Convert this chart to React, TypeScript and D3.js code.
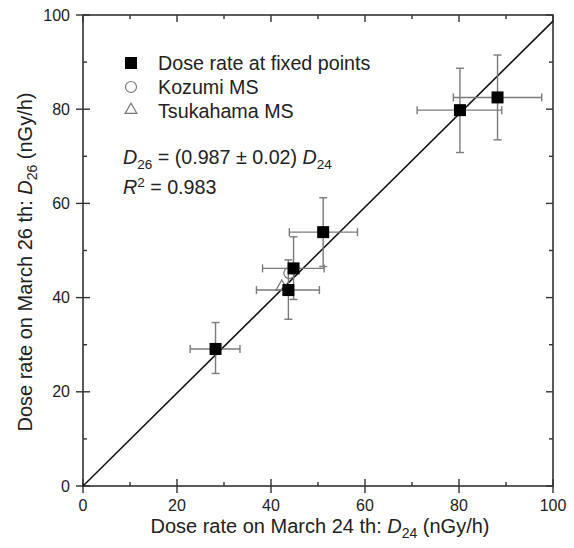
import React, { useRef, useEffect } from "react";
import * as d3 from "d3";

// fixed point measurements (D24, D26) with error ranges
const fixedX = [28.2, 43.7, 44.8, 51.1, 80.2, 88.2];
const fixedY = [29.1, 41.6, 46.2, 53.9, 79.8, 82.5];
const fixedXLo = [22.8, 36.9, 38.2, 43.9, 71.1, 78.8];
const fixedXHi = [33.4, 50.3, 51.3, 58.4, 89.1, 97.6];
const fixedYLo = [23.9, 35.4, 39.6, 46.6, 70.8, 73.5];
const fixedYHi = [34.7, 48.0, 52.9, 61.2, 88.7, 91.5];

const kozumi = [43.9, 45.2];
const tsukahama = [42.3, 42.3];

const slope = 0.987;
const majorTicks = [0, 20, 40, 60, 80, 100];
const minorTicks = [10, 30, 50, 70, 90];

const W = 574;
const H = 548;
const left = 83, right = 553, top = 15, bottom = 486;
const font = "Liberation Sans, Arial, sans-serif";

function App() {
  const svgRef = useRef<SVGSVGElement>(null);

  useEffect(() => {
    const svg = d3.select(svgRef.current);
    svg.selectAll("*").remove();

    const x = d3.scaleLinear().domain([0, 100]).range([left, right]);
    const y = d3.scaleLinear().domain([0, 100]).range([bottom, top]);
    const axisColor = "#333";

    // frame
    svg.append("rect")
      .attr("x", left).attr("y", top)
      .attr("width", right - left).attr("height", bottom - top)
      .attr("fill", "none").attr("stroke", axisColor).attr("stroke-width", 1.6);

    const ticks = svg.append("g").attr("stroke", axisColor).attr("stroke-width", 1.4);
    majorTicks.forEach(t => {
      ticks.append("line").attr("x1", x(t)).attr("x2", x(t)).attr("y1", bottom - 7).attr("y2", bottom + 7);
      ticks.append("line").attr("x1", x(t)).attr("x2", x(t)).attr("y1", top).attr("y2", top + 7);
      ticks.append("line").attr("y1", y(t)).attr("y2", y(t)).attr("x1", left - 7).attr("x2", left + 7);
      ticks.append("line").attr("y1", y(t)).attr("y2", y(t)).attr("x1", right - 7).attr("x2", right);
    });
    minorTicks.forEach(t => {
      ticks.append("line").attr("x1", x(t)).attr("x2", x(t)).attr("y1", bottom - 4).attr("y2", bottom);
      ticks.append("line").attr("x1", x(t)).attr("x2", x(t)).attr("y1", top).attr("y2", top + 4);
      ticks.append("line").attr("y1", y(t)).attr("y2", y(t)).attr("x1", left).attr("x2", left + 4);
      ticks.append("line").attr("y1", y(t)).attr("y2", y(t)).attr("x1", right - 4).attr("x2", right);
    });

    // tick labels
    svg.append("g").selectAll("text").data(majorTicks).join("text")
      .attr("x", d => x(d)).attr("y", bottom + 25)
      .attr("text-anchor", "middle")
      .attr("font-family", font).attr("font-size", 16).attr("fill", "#222")
      .text(d => d);
    svg.append("g").selectAll("text").data(majorTicks).join("text")
      .attr("x", left - 13).attr("y", d => y(d) + 5.5)
      .attr("text-anchor", "end")
      .attr("font-family", font).attr("font-size", 16).attr("fill", "#222")
      .text(d => d);

    // fit line
    const fit = d3.line<number>().x(d => x(d)).y(d => y(slope * d));
    svg.append("path").datum([0, 100]).attr("d", fit)
      .attr("fill", "none").attr("stroke", "#111").attr("stroke-width", 1.5);

    // error bars
    const eb = svg.append("g").attr("stroke", "#7a7a7a").attr("stroke-width", 1.4);
    const cap = 4;
    fixedX.forEach((xv, i) => {
      const cx = x(xv), cy = y(fixedY[i]);
      eb.append("line").attr("x1", x(fixedXLo[i])).attr("x2", x(fixedXHi[i])).attr("y1", cy).attr("y2", cy);
      eb.append("line").attr("x1", x(fixedXLo[i])).attr("x2", x(fixedXLo[i])).attr("y1", cy - cap).attr("y2", cy + cap);
      eb.append("line").attr("x1", x(fixedXHi[i])).attr("x2", x(fixedXHi[i])).attr("y1", cy - cap).attr("y2", cy + cap);
      eb.append("line").attr("x1", cx).attr("x2", cx).attr("y1", y(fixedYLo[i])).attr("y2", y(fixedYHi[i]));
      eb.append("line").attr("x1", cx - cap).attr("x2", cx + cap).attr("y1", y(fixedYLo[i])).attr("y2", y(fixedYLo[i]));
      eb.append("line").attr("x1", cx - cap).attr("x2", cx + cap).attr("y1", y(fixedYHi[i])).attr("y2", y(fixedYHi[i]));
    });

    const sq = 12;
    const tri = d3.symbol().type(d3.symbolTriangle).size(60);

    // kozumi and tsukahama
    svg.append("path").attr("d", tri()).attr("transform", `translate(${x(tsukahama[0])},${y(tsukahama[1])})`)
      .attr("fill", "none").attr("stroke", "#777").attr("stroke-width", 1.2);
    svg.append("circle").attr("cx", x(kozumi[0])).attr("cy", y(kozumi[1])).attr("r", 5.5)
      .attr("fill", "none").attr("stroke", "#777").attr("stroke-width", 1.2);

    // squares
    svg.append("g").selectAll("rect").data(fixedX).join("rect")
      .attr("x", (d) => x(d) - sq / 2)
      .attr("y", (d, i) => y(fixedY[i]) - sq / 2)
      .attr("width", sq).attr("height", sq).attr("fill", "#000");

    // legend
    const lg = svg.append("g");
    const lx = 131;
    lg.append("rect").attr("x", lx - 6).attr("y", 63 - 6).attr("width", 12).attr("height", 12).attr("fill", "#000");
    lg.append("circle").attr("cx", lx).attr("cy", 87).attr("r", 5.5).attr("fill", "none").attr("stroke", "#777").attr("stroke-width", 1.2);
    lg.append("path").attr("d", tri()).attr("transform", `translate(${lx},${110})`)
      .attr("fill", "none").attr("stroke", "#777").attr("stroke-width", 1.2);
    ["Dose rate at fixed points", "Kozumi MS", "Tsukahama MS"].forEach((t, i) => {
      lg.append("text").attr("x", 158).attr("y", 70 + i * 24)
        .attr("font-family", font).attr("font-size", 19.7).attr("fill", "#222").text(t);
    });

    // equation
    const eq = svg.append("text").attr("x", 123).attr("y", 164)
      .attr("font-family", font).attr("font-size", 19.7).attr("fill", "#222");
    eq.append("tspan").attr("font-style", "italic").text("D");
    eq.append("tspan").attr("font-size", 13.5).attr("dy", 5).text("26");
    eq.append("tspan").attr("dy", -5).text(" = (0.987 ± 0.02) ");
    eq.append("tspan").attr("font-style", "italic").text("D");
    eq.append("tspan").attr("font-size", 13.5).attr("dy", 5).text("24");

    const r2 = svg.append("text").attr("x", 123).attr("y", 194)
      .attr("font-family", font).attr("font-size", 19.7).attr("fill", "#222");
    r2.append("tspan").attr("font-style", "italic").text("R");
    r2.append("tspan").attr("font-size", 13.5).attr("dy", -7).text("2");
    r2.append("tspan").attr("dy", 7).text(" = 0.983");

    // axis titles
    const xt = svg.append("text").attr("x", 320).attr("y", 533)
      .attr("text-anchor", "middle")
      .attr("font-family", font).attr("font-size", 20).attr("fill", "#222");
    xt.append("tspan").text("Dose rate on March 24 th: ");
    xt.append("tspan").attr("font-style", "italic").text("D");
    xt.append("tspan").attr("font-size", 14).attr("dy", 5).text("24");
    xt.append("tspan").attr("dy", -5).text(" (nGy/h)");

    const yt = svg.append("text")
      .attr("transform", `translate(32,${262}) rotate(-90)`)
      .attr("text-anchor", "middle")
      .attr("font-family", font).attr("font-size", 20).attr("fill", "#222");
    yt.append("tspan").text("Dose rate on March 26 th: ");
    yt.append("tspan").attr("font-style", "italic").text("D");
    yt.append("tspan").attr("font-size", 14).attr("dy", 5).text("26");
    yt.append("tspan").attr("dy", -5).text(" (nGy/h)");
  }, []);

  return (
    <svg ref={svgRef} width={W} height={H} style={{ position: "absolute", left: 0, top: 0, background: "#fff" }} />
  );
}

export default App;
